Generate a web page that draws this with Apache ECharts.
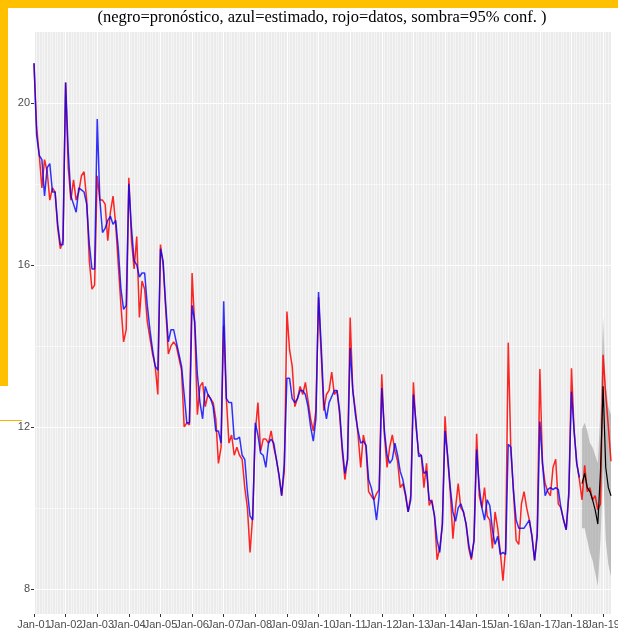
<!DOCTYPE html>
<html>
<head>
<meta charset="utf-8">
<style>html,body{margin:0;padding:0;background:#fff}#c{width:618px;height:631px}</style>
<script src="https://cdn.jsdelivr.net/npm/echarts@6/dist/echarts.min.js"></script>
</head>
<body>
<div id="c"></div>
<script>
// Monthly series, index 0 = Jan 2001
const xLabels = ['Jan-01','Jan-02','Jan-03','Jan-04','Jan-05','Jan-06','Jan-07','Jan-08','Jan-09','Jan-10',
  'Jan-11','Jan-12','Jan-13','Jan-14','Jan-15','Jan-16','Jan-17','Jan-18','Jan-19'];
const yTicks = [8, 12, 16, 20];
const yMinor = [10, 14, 18];
const titleText = '(negro=pronóstico, azul=estimado, rojo=datos, sombra=95% conf. )';

// rojo = datos
const datos = [
  20.98,19.4,18.7,17.9,18.6,18.3,17.6,17.9,17.8,16.9,16.4,16.6,
  20.5,18.4,17.6,18.1,17.6,17.8,18.2,18.3,17.6,16.1,15.4,15.5,
  18.2,17.6,17.6,17.5,16.6,17.3,17.7,17.0,16.0,15.0,14.1,14.4,
  18.15,16.6,15.9,16.7,14.7,15.6,15.4,14.6,14.2,13.8,13.5,12.8,
  16.5,16.0,14.9,13.8,14.0,14.1,14.0,13.7,13.4,12.0,12.1,12.05,
  15.8,14.5,12.3,13.0,13.1,12.5,12.8,12.7,12.6,12.2,11.1,11.5,
  14.5,12.7,11.6,11.8,11.3,11.5,11.3,11.2,10.5,10.0,8.9,9.8,
  11.9,12.6,11.4,11.7,11.7,11.6,11.9,11.5,11.2,10.8,10.3,10.9,
  14.85,13.9,13.5,12.5,12.7,13.0,12.8,13.1,12.65,12.2,11.9,12.4,
  15.2,13.8,12.4,12.8,12.9,13.35,12.8,12.9,12.3,11.4,10.7,11.2,
  14.7,12.9,12.4,11.8,11.0,11.8,11.5,10.4,10.3,10.2,10.35,10.45,
  13.3,11.8,11.0,11.5,11.8,11.4,11.15,10.5,10.6,10.3,9.9,10.3,
  13.1,12.0,11.35,11.3,10.5,11.1,10.06,10.2,9.8,8.72,9.0,9.6,
  12.26,11.2,10.4,9.24,10.0,10.6,10.0,9.9,9.6,9.0,8.72,9.2,
  11.83,10.3,10.0,10.5,9.8,9.7,9.0,9.9,9.5,8.9,8.2,9.0,
  14.08,11.4,10.4,9.2,9.1,10.1,10.4,10.0,9.7,9.3,8.7,9.4,
  13.43,11.1,10.6,10.4,10.3,11.0,11.2,10.1,10.0,9.7,9.46,10.3,
  13.45,11.9,11.1,10.7,10.2,11.05,10.4,10.5,10.2,10.3,9.95,10.1,
  13.78,12.8,12.0,11.15
];
// azul = estimado
const estimado = [
  20.98,19.2,18.7,18.6,17.7,18.4,18.5,17.8,17.8,17.0,16.5,16.5,
  20.5,18.8,17.7,17.5,17.3,17.9,17.85,17.8,17.5,16.5,15.9,15.9,
  19.6,17.6,16.8,16.9,17.1,17.2,17.0,17.1,16.4,15.4,14.9,15.0,
  18.0,16.9,16.1,16.0,15.7,15.8,15.8,15.0,14.4,13.9,13.5,13.4,
  16.4,16.1,15.0,14.1,14.4,14.4,14.1,13.8,13.5,12.8,12.1,12.1,
  15.0,14.6,13.3,12.6,12.2,13.0,12.8,12.7,12.5,11.9,11.9,11.6,
  15.1,12.7,12.6,12.6,11.7,11.7,11.75,11.3,11.2,10.4,9.8,9.7,
  12.1,11.8,11.35,11.3,11.0,11.6,11.7,11.6,11.2,10.8,10.3,11.1,
  13.2,13.2,12.7,12.6,12.7,12.9,12.9,12.8,12.5,12.0,11.65,12.2,
  15.33,14.0,12.6,12.2,12.6,12.75,12.9,12.9,12.4,11.5,10.85,11.2,
  13.95,12.9,12.3,11.9,11.6,11.65,11.55,10.7,10.5,10.2,9.7,10.3,
  12.96,11.9,11.3,11.1,11.2,11.6,11.3,10.9,10.7,10.35,9.9,10.2,
  12.8,12.1,11.27,11.3,10.85,10.9,10.2,10.15,9.8,9.2,8.9,9.6,
  11.9,11.3,10.5,9.9,9.67,10.0,10.1,9.9,9.6,9.1,8.76,9.2,
  11.44,10.5,10.0,9.7,10.2,10.06,9.45,9.1,9.3,8.85,8.9,8.85,
  11.57,11.5,10.4,9.7,9.5,9.5,9.5,9.6,9.7,9.3,8.7,9.3,
  12.13,11.1,10.3,10.45,10.5,10.45,10.5,10.45,10.0,9.7,9.46,10.4,
  12.87,11.9,11.1,10.75
];
// negro = pronóstico (from index 208 = May 2018)
const fcStart = 208;
const pronostico = [10.6,10.85,10.5,10.4,10.2,9.95,9.6,10.9,13.0,11.0,10.5,10.3];
const confLow    = [9.5,9.5,9.2,8.9,8.7,8.4,8.07,9.2,11.0,9.2,8.6,8.3];
const confHigh   = [11.95,12.1,11.9,11.6,11.5,11.3,11.1,12.4,14.7,13.0,12.5,12.3];

const pairs = (arr, start) => arr.map((v, k) => [start + k, v]);
const xTickValues = xLabels.map((s, k) => k * 12);
const xEven = xTickValues.filter((v, k) => k % 2 === 0);
const xOdd = xTickValues.filter((v, k) => k % 2 === 1);

const chart = echarts.init(document.getElementById('c'), null, {renderer: 'canvas'});
const axisFont = {fontSize: 11, color: '#4D4D4D', fontFamily: 'Liberation Sans'};
const xFmt = v => xLabels[Math.round(v / 12)] || '';
const xMax = datos.length - 1;
chart.setOption({
  animation: false,
  backgroundColor: '#FFFFFF',
  grid: {left: 34, right: 7, top: 32, bottom: 17, show: true, backgroundColor: '#EBEBEB', borderWidth: 0, outerBoundsMode: 'none', containLabel: false},
  xAxis: [{
    type: 'value', min: 0, max: xMax, interval: 12, position: 'bottom',
    axisLine: {show: false},
    axisTick: {show: true, length: 3, customValues: xTickValues, lineStyle: {color: '#333', width: 1}},
    axisLabel: Object.assign({margin: 5, hideOverlap: false, showMinLabel: true, showMaxLabel: true,
      customValues: xEven, formatter: xFmt}, axisFont),
    splitLine: {show: true, lineStyle: {color: '#FFFFFF', width: 1.1}},
    minorTick: {show: false, splitNumber: 12},
    minorSplitLine: {show: true, lineStyle: {color: '#FFFFFF', width: 0.5}}
  }, {
    type: 'value', min: 0, max: xMax, position: 'bottom', offset: 0,
    axisLine: {show: false},
    axisTick: {show: false, customValues: xOdd},
    axisLabel: Object.assign({margin: 5, hideOverlap: false, showMinLabel: true, showMaxLabel: true,
      customValues: xOdd, formatter: xFmt}, axisFont),
    splitLine: {show: false}
  }],
  yAxis: [{
    type: 'value', min: 7.38, max: 21.75,
    axisLine: {show: false},
    axisTick: {show: true, length: 3, customValues: yTicks, lineStyle: {color: '#333', width: 1}},
    axisLabel: Object.assign({margin: 4, customValues: yTicks}, axisFont),
    splitLine: {show: true, lineStyle: {color: '#FFFFFF', width: 1.1}}
  }, {
    type: 'value', min: 7.38, max: 21.75, position: 'left',
    axisLine: {show: false},
    axisTick: {show: false, customValues: yMinor},
    axisLabel: {show: false, customValues: yMinor},
    splitLine: {show: true, lineStyle: {color: '#FFFFFF', width: 0.55}}
  }],
  series: [
    {
      type: 'custom', silent: true, z: 1,
      data: confLow.map((lo, k) => [fcStart + k, lo, confHigh[k]]),
      encode: {x: 0, y: [1, 2]},
      renderItem: function (params, api) {
        if (params.dataIndexInside !== 0) return null;
        const n = confLow.length;
        const lower = [], upper = [];
        for (let k = 0; k < n; k++) {
          lower.push(api.coord([api.value(0, k), api.value(1, k)]));
          upper.push(api.coord([api.value(0, k), api.value(2, k)]));
        }
        return {type: 'polygon', shape: {points: lower.concat(upper.reverse())},
          style: {fill: 'rgba(150,150,150,0.55)'}};
      }
    },
    {type: 'line', data: pairs(datos, 0), symbol: 'none', lineStyle: {color: '#FF0000', width: 1.5, opacity: 0.85}, z: 2},
    {type: 'line', data: pairs(estimado, 0), symbol: 'none', lineStyle: {color: '#0000FF', width: 1.5, opacity: 0.8}, z: 3},
    {type: 'line', data: pairs(pronostico, fcStart), symbol: 'none', lineStyle: {color: '#000000', width: 1.2}, z: 4}
  ],
  graphic: [
    {type: 'text', x: 322, y: 18, z: 50, style: {text: titleText, align: 'center', verticalAlign: 'middle', fontSize: 16.5, fontFamily: 'Liberation Serif', fill: '#000'}},
    {type: 'rect', shape: {x: 0, y: 0, width: 618, height: 8}, style: {fill: '#FFC000'}, z: 100},
    {type: 'rect', shape: {x: 0, y: 0, width: 8, height: 386}, style: {fill: '#FFC000'}, z: 100},
    {type: 'line', shape: {x1: 0, y1: 420.5, x2: 22, y2: 420.5}, style: {stroke: '#F5B400', lineWidth: 1}, z: 100}
  ]
});
</script>
</body>
</html>
